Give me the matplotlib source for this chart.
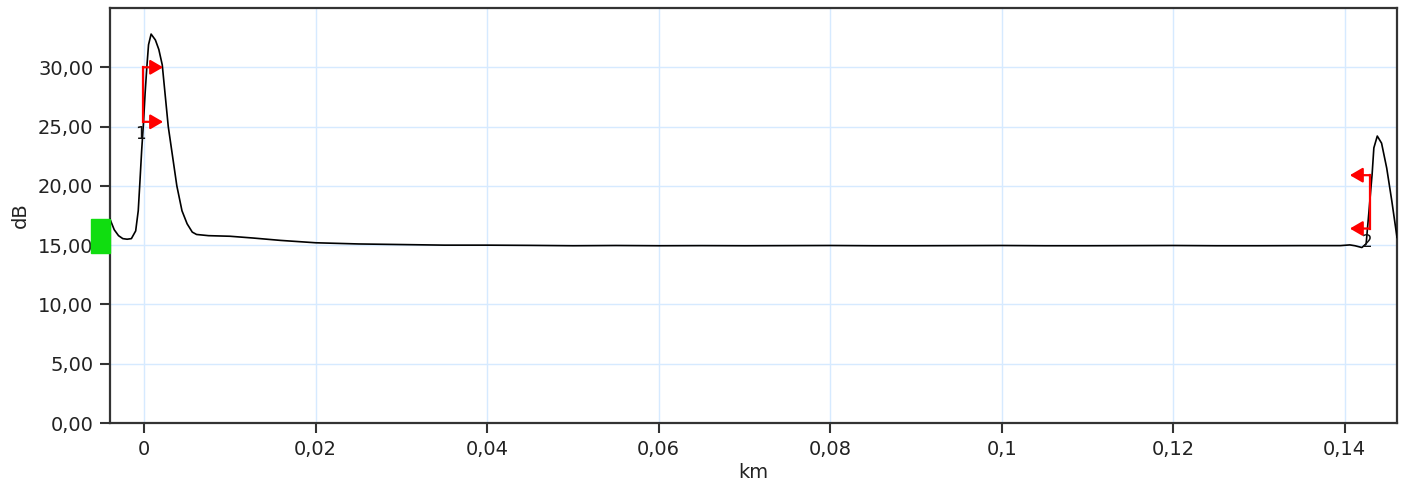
import matplotlib.pyplot as plt
from matplotlib.patches import Rectangle

# OTDR trace (distance in km, level in dB)
dist_km = [-0.004, -0.0035, -0.003, -0.0025, -0.002, -0.0015, -0.001, -0.0007, -0.0005,
           -0.0003, -0.0001, 0.0001, 0.0003, 0.0005, 0.0008, 0.0013, 0.0017, 0.0021,
           0.0028, 0.0038, 0.0044, 0.005, 0.0056, 0.0061, 0.0075, 0.01, 0.0127, 0.0159,
           0.02, 0.025, 0.03, 0.035, 0.04, 0.045, 0.05, 0.055, 0.06, 0.065, 0.07, 0.075,
           0.08, 0.085, 0.09, 0.095, 0.1, 0.105, 0.11, 0.115, 0.12, 0.125, 0.13, 0.135,
           0.1395, 0.1406, 0.1412, 0.142, 0.1425, 0.1428, 0.1432, 0.1434, 0.1438,
           0.1443, 0.1449, 0.1455, 0.1461]
level_db = [17.2, 16.3, 15.8, 15.55, 15.5, 15.55, 16.2, 17.9, 20.4,
            23.0, 25.2, 27.8, 30.0, 31.9, 32.8, 32.3, 31.5, 30.2,
            25.0, 20.0, 17.9, 16.8, 16.1, 15.9, 15.8, 15.75, 15.6, 15.4,
            15.2, 15.1, 15.05, 15.0, 15.0, 14.98, 14.95, 14.97, 14.95, 14.96, 14.95, 14.96,
            14.97, 14.95, 14.95, 14.96, 14.97, 14.95, 14.95, 14.96, 14.97, 14.95, 14.95, 14.96,
            14.96, 15.02, 14.95, 14.8, 15.1, 17.6, 21.0, 23.2, 24.2,
            23.6, 21.5, 18.7, 15.65]

# event markers: position, lower / upper level, arrow end
event_x = [-0.0001, 0.1429]
event_lo = [25.4, 16.4]
event_hi = [30.0, 20.9]
event_tip = [0.0022, 0.1406]
event_names = ['1', '2']
event_label_pos = [(-0.0004, 24.4), (0.1426, 15.3)]

xticks = [0, 0.02, 0.04, 0.06, 0.08, 0.1, 0.12, 0.14]
yticks = [0, 5, 10, 15, 20, 25, 30]

fig = plt.figure(figsize=(14.06, 4.84), dpi=100)
ax = fig.add_axes([0.0782, 0.126, 0.9154, 0.8575])

ax.plot(dist_km, level_db, color='black', lw=1.2, zorder=3)

for x, lo, hi, tip in zip(event_x, event_lo, event_hi, event_tip):
    ax.plot([x, x], [lo, hi], color='red', lw=1.6, zorder=4)
    for y in (lo, hi):
        ax.annotate('', xy=(tip, y), xytext=(x, y),
                    arrowprops=dict(arrowstyle='-|>,head_length=0.55,head_width=0.32',
                                    color='red', lw=1.6, mutation_scale=14,
                                    shrinkA=0, shrinkB=0), zorder=4)

for name, (lx, ly) in zip(event_names, event_label_pos):
    ax.text(lx, ly, name, fontsize=12, color='#111111', ha='center', va='center', zorder=5)

# green start marker outside the plot area
ax.add_patch(Rectangle((-0.0062, 14.3), 0.0022, 2.9, color='#10dd10',
                       clip_on=False, zorder=6))

ax.set_xlim(-0.004, 0.1461)
ax.set_ylim(0, 35)
ax.set_xticks(xticks)
ax.set_yticks(yticks)
ax.set_xticklabels([f'{v:g}'.replace('.', ',') for v in xticks])
ax.set_yticklabels([f'{v:.2f}'.replace('.', ',') for v in yticks])
ax.tick_params(labelsize=14, length=7, width=1.5, color='#333333',
               labelcolor='#222222', pad=5)
ax.grid(True, color='#d6eaff', lw=1.0)
ax.set_axisbelow(True)
for s in ax.spines.values():
    s.set_color('#333333')
    s.set_linewidth(1.6)

ax.set_xlabel('km', fontsize=14, color='#222222', labelpad=3)
ax.set_ylabel('dB', fontsize=14, color='#222222', labelpad=6)

fig.savefig('out.png', dpi=100)
